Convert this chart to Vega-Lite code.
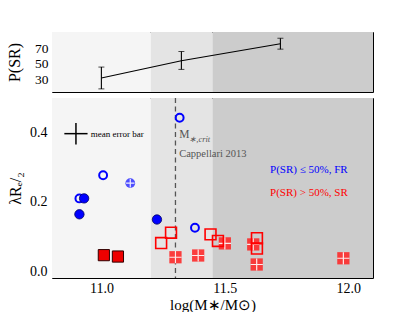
{
  "$schema": "https://vega.github.io/schema/vega-lite/v6.json",
  "padding": {"left": 6, "top": 31, "right": 0, "bottom": 0},
  "background": "white",
  "config": {
    "view": {"stroke": "black", "strokeWidth": 1},
    "font": "Liberation Serif",
    "axis": {"domain": false, "grid": false, "labelFont": "Liberation Serif", "titleFont": "Liberation Serif", "labelColor": "black", "titleColor": "black", "tickColor": "black", "titleFontWeight": "normal", "labelFontSize": 14, "tickWidth": 1},
    "concat": {"spacing": 3}
  },
  "datasets": {
    "bands": [
      {"x": 10.8, "x2": 11.2, "c": "#f5f5f5"},
      {"x": 11.2, "x2": 11.45, "c": "#e4e4e4"},
      {"x": 11.45, "x2": 12.1, "c": "#cccccc"}
    ],
    "psr": [
      {"m": 11.0, "p": 32, "lo": 18, "hi": 46},
      {"m": 11.324, "p": 54, "lo": 43, "hi": 66},
      {"m": 11.725, "p": 76, "lo": 69, "hi": 83}
    ],
    "pts": [
      {"x": 11.317, "y": 0.443, "cls": "FR", "st": "open"},
      {"x": 11.007, "y": 0.277, "cls": "FR", "st": "open"},
      {"x": 10.911, "y": 0.210, "cls": "FR", "st": "open"},
      {"x": 11.379, "y": 0.125, "cls": "FR", "st": "open"},
      {"x": 10.930, "y": 0.210, "cls": "FR", "st": "filled"},
      {"x": 10.911, "y": 0.164, "cls": "FR", "st": "filled"},
      {"x": 11.225, "y": 0.149, "cls": "FR", "st": "filled"},
      {"x": 11.117, "y": 0.254, "cls": "FR", "st": "crossed"},
      {"x": 11.010, "y": 0.046, "cls": "SR", "st": "filled"},
      {"x": 11.067, "y": 0.042, "cls": "SR", "st": "filled"},
      {"x": 11.300, "y": 0.040, "cls": "SR", "st": "crossed"},
      {"x": 11.392, "y": 0.045, "cls": "SR", "st": "crossed"},
      {"x": 11.500, "y": 0.080, "cls": "SR", "st": "crossed"},
      {"x": 11.615, "y": 0.077, "cls": "SR", "st": "crossed"},
      {"x": 11.629, "y": 0.019, "cls": "SR", "st": "crossed"},
      {"x": 11.980, "y": 0.037, "cls": "SR", "st": "crossed"},
      {"x": 11.242, "y": 0.081, "cls": "SR", "st": "open"},
      {"x": 11.282, "y": 0.111, "cls": "SR", "st": "open"},
      {"x": 11.442, "y": 0.106, "cls": "SR", "st": "open"},
      {"x": 11.472, "y": 0.087, "cls": "SR", "st": "open"},
      {"x": 11.630, "y": 0.095, "cls": "SR", "st": "open"},
      {"x": 11.630, "y": 0.065, "cls": "SR", "st": "open"}
    ]
  },
  "vconcat": [
    {
      "width": 321,
      "height": 60,
      "encoding": {
        "x": {"type": "quantitative", "scale": {"domain": [10.8, 12.1], "nice": false, "zero": false},
              "axis": {"orient": "bottom", "values": [11.0, 11.5, 12.0], "labels": false, "tickSize": -5, "title": null}},
        "y": {"type": "quantitative", "scale": {"domain": [14, 91], "nice": false, "zero": false},
              "axis": {"orient": "left", "values": [30, 50, 70], "labelOverlap": false, "labelFontSize": 13.5, "tickSize": -5, "labelPadding": 9, "title": "P(SR)", "titleFontSize": 16, "titlePadding": 12}}
      },
      "layer": [
        {
          "data": {"name": "bands"},
          "mark": {"type": "rect", "stroke": null},
          "encoding": {
            "x": {"field": "x"},
            "x2": {"field": "x2"},
            "color": {"field": "c", "type": "nominal", "scale": null}
          }
        },
        {
          "data": {"name": "psr"},
          "mark": {"type": "line", "color": "black", "strokeWidth": 1.1},
          "encoding": {
            "x": {"field": "m"},
            "y": {"field": "p"}
          }
        },
        {
          "data": {"name": "psr"},
          "mark": {"type": "rule", "color": "black", "strokeWidth": 1.1},
          "encoding": {
            "x": {"field": "m"},
            "y": {"field": "lo"},
            "y2": {"field": "hi"}
          }
        },
        {
          "data": {"name": "psr"},
          "mark": {"type": "tick", "orient": "horizontal", "color": "black", "size": 6, "thickness": 1},
          "encoding": {
            "x": {"field": "m"},
            "y": {"field": "lo"}
          }
        },
        {
          "data": {"name": "psr"},
          "mark": {"type": "tick", "orient": "horizontal", "color": "black", "size": 6, "thickness": 1},
          "encoding": {
            "x": {"field": "m"},
            "y": {"field": "hi"}
          }
        }
      ]
    },
    {
      "width": 321,
      "height": 180,
      "encoding": {
        "x": {"type": "quantitative", "scale": {"domain": [10.8, 12.1], "nice": false, "zero": false},
              "axis": {"orient": "bottom", "values": [11.0, 10.9, 11.5, 11.1, 12.0, 11.2, 11.3, 11.4, 11.6, 11.7, 11.8, 11.9],
                       "labelOverlap": false,
                       "labelExpr": "abs(datum.value*2 - round(datum.value*2)) < 0.001 ? format(datum.value, '.1f') : ''",
                       "tickSize": {"condition": {"test": "abs(datum.value*2 - round(datum.value*2)) < 0.001", "value": -6}, "value": -3},
                       "labelPadding": 9, "title": "log(M∗/M⊙)", "titleFontSize": 15, "titlePadding": -1}},
        "y": {"type": "quantitative", "scale": {"domain": [-0.02, 0.5], "nice": false, "zero": false},
              "axis": {"orient": "left", "values": [0, 0.05, 0.1, 0.15, 0.2, 0.25, 0.3, 0.35, 0.4, 0.45],
                       "labelOverlap": false,
                       "labelExpr": "abs(datum.value*5 - round(datum.value*5)) < 0.001 ? format(datum.value, '.1f') : ''",
                       "tickSize": {"condition": {"test": "abs(datum.value*5 - round(datum.value*5)) < 0.001", "value": -6}, "value": -3},
                       "labelPadding": 11, "title": "λRₑ/₂", "titleFontSize": 16, "titlePadding": 6}}
      },
      "layer": [
        {
          "data": {"name": "bands"},
          "mark": {"type": "rect", "stroke": null},
          "encoding": {
            "x": {"field": "x"},
            "x2": {"field": "x2"},
            "color": {"field": "c", "type": "nominal", "scale": null}
          }
        },
        {
          "data": {"values": [{"x": 11.3}]},
          "mark": {"type": "rule", "color": "#555555", "strokeDash": [5, 3.5], "strokeWidth": 1.3},
          "encoding": {
            "x": {"field": "x"}
          }
        },
        {
          "data": {"values": [{"xlo": 10.850, "xhi": 10.944, "y": 0.397}]},
          "mark": {"type": "rule", "color": "black", "strokeWidth": 1.5},
          "encoding": {
            "x": {"field": "xlo"},
            "x2": {"field": "xhi"},
            "y": {"field": "y"}
          }
        },
        {
          "data": {"values": [{"x": 10.897, "ylo": 0.366, "yhi": 0.428}]},
          "mark": {"type": "rule", "color": "black", "strokeWidth": 1.5},
          "encoding": {
            "x": {"field": "x"},
            "y": {"field": "ylo"},
            "y2": {"field": "yhi"}
          }
        },
        {
          "data": {"values": [
            {"x": 10.957, "y": 0.396, "t": "mean error bar", "c": "black", "s": 9},
            {"x": 11.315, "y": 0.392, "t": "M", "c": "#555555", "s": 11.5},
            {"x": 11.315, "y": 0.339, "t": "Cappellari 2013", "c": "#555555", "s": 10.5},
            {"x": 11.683, "y": 0.293, "t": "P(SR) ≤ 50%, FR", "c": "#0000ff", "s": 11},
            {"x": 11.683, "y": 0.226, "t": "P(SR) > 50%, SR", "c": "#ff0000", "s": 11}
          ]},
          "mark": {"type": "text", "align": "left", "baseline": "middle", "font": "Liberation Serif"},
          "encoding": {
            "x": {"field": "x"},
            "y": {"field": "y"},
            "text": {"field": "t"},
            "color": {"field": "c", "type": "nominal", "scale": null},
            "size": {"field": "s", "type": "quantitative", "scale": null}
          }
        },
        {
          "data": {"values": [{"x": 11.356, "y": 0.381, "t": "∗,crit"}]},
          "mark": {"type": "text", "align": "left", "baseline": "middle", "font": "Liberation Serif", "fontStyle": "italic", "fontSize": 8.5, "color": "#555555"},
          "encoding": {
            "x": {"field": "x"},
            "y": {"field": "y"},
            "text": {"field": "t"}
          }
        },
        {
          "data": {"name": "pts"},
          "transform": [{"filter": "datum.cls == 'FR' && datum.st == 'open'"}],
          "mark": {"type": "point", "shape": "circle", "filled": false, "stroke": "#0000ff", "strokeWidth": 2, "size": 62, "opacity": 1},
          "encoding": {"x": {"field": "x"}, "y": {"field": "y"}}
        },
        {
          "data": {"name": "pts"},
          "transform": [{"filter": "datum.cls == 'FR' && datum.st == 'filled'"}],
          "mark": {"type": "point", "shape": "circle", "filled": true, "fill": "#0000ff", "stroke": "#000060", "strokeWidth": 0.8, "size": 88, "opacity": 1},
          "encoding": {"x": {"field": "x"}, "y": {"field": "y"}}
        },
        {
          "data": {"name": "pts"},
          "transform": [{"filter": "datum.cls == 'FR' && datum.st == 'crossed'"}],
          "mark": {"type": "point", "shape": "circle", "filled": true, "fill": "#3030ff", "strokeWidth": 0, "size": 95, "opacity": 0.85},
          "encoding": {"x": {"field": "x"}, "y": {"field": "y"}}
        },
        {
          "data": {"name": "pts"},
          "transform": [{"filter": "datum.cls == 'FR' && datum.st == 'crossed'"}],
          "mark": {"type": "point", "shape": "M-0.85,0L0.85,0M0,-0.85L0,0.85", "filled": false, "stroke": "white", "strokeWidth": 1.2, "size": 100, "opacity": 0.9},
          "encoding": {"x": {"field": "x"}, "y": {"field": "y"}}
        },
        {
          "data": {"name": "pts"},
          "transform": [{"filter": "datum.cls == 'SR' && datum.st == 'filled'"}],
          "mark": {"type": "point", "shape": "square", "filled": true, "fill": "#ee0000", "stroke": "#300000", "strokeWidth": 1, "size": 125, "opacity": 1},
          "encoding": {"x": {"field": "x"}, "y": {"field": "y"}}
        },
        {
          "data": {"name": "pts"},
          "transform": [{"filter": "datum.cls == 'SR' && datum.st == 'crossed'"}],
          "mark": {"type": "point", "shape": "square", "filled": true, "fill": "#ff2020", "strokeWidth": 0, "size": 150, "opacity": 0.85},
          "encoding": {"x": {"field": "x"}, "y": {"field": "y"}}
        },
        {
          "data": {"name": "pts"},
          "transform": [{"filter": "datum.cls == 'SR' && datum.st == 'crossed'"}],
          "mark": {"type": "point", "shape": "M-1,0L1,0M0,-1L0,1", "filled": false, "stroke": "white", "strokeWidth": 1.2, "size": 150, "opacity": 0.9},
          "encoding": {"x": {"field": "x"}, "y": {"field": "y"}}
        },
        {
          "data": {"name": "pts"},
          "transform": [{"filter": "datum.cls == 'SR' && datum.st == 'open'"}],
          "mark": {"type": "point", "shape": "square", "filled": false, "stroke": "#ff0000", "strokeWidth": 1.6, "size": 118, "opacity": 1},
          "encoding": {"x": {"field": "x"}, "y": {"field": "y"}}
        }
      ]
    }
  ]
}
